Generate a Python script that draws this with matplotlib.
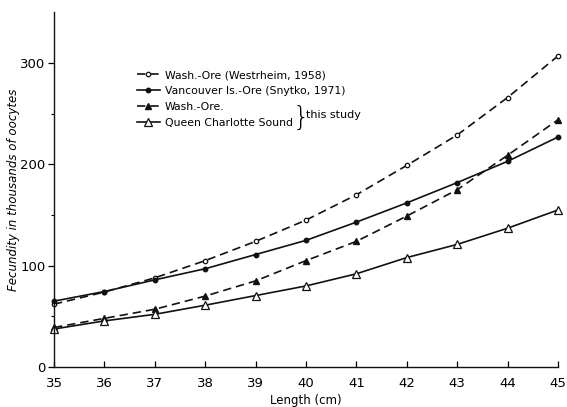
import matplotlib
matplotlib.use('Agg')
import matplotlib.pyplot as plt
from matplotlib.legend_handler import HandlerLine2D
import numpy as np

# fork length (cm)
length = [35, 36, 37, 38, 39, 40, 41, 42, 43, 44, 45]
# fecundity, thousands of oocytes
westrheim = [62, 74, 88, 105, 124, 145, 170, 199, 229, 266, 307]
snytko = [65, 74.5, 86, 97, 111, 125, 143, 162, 182, 203, 227]
wash_ore = [39, 48, 57, 70, 85, 105, 124, 149, 175, 209, 244]
qcs = [37.5, 45.5, 52, 61, 70.5, 80, 92, 108, 121, 137, 155]

labels = ['Wash.-Ore (Westrheim, 1958)', 'Vancouver Is.-Ore (Snytko, 1971)',
          'Wash.-Ore.', 'Queen Charlotte Sound']
xticks = [35, 36, 37, 38, 39, 40, 41, 42, 43, 44, 45]
yticks = [0, 100, 200, 300]


# marker at the right end of the legend line, like the original key
class HandlerEnd(HandlerLine2D):
    def get_xdata(self, legend, xdescent, ydescent, width, height, fontsize):
        xdata = np.array([-xdescent, -xdescent + width])
        return xdata, np.array([-xdescent + width])


fig = plt.figure(figsize=(5.67, 4.07), dpi=100)
ax = fig.add_axes([54/567, 40/407, 504/567, 354.6/407])

ink = '#111111'
dash = (0, (5, 3))
l1, = ax.plot(length, westrheim, color=ink, lw=1.2, linestyle=dash, marker='o',
              ms=3.2, mfc='white', mew=0.9, clip_on=False)
l2, = ax.plot(length, snytko, color=ink, lw=1.2, marker='o', ms=3.2,
              mfc=ink, clip_on=False)
l3, = ax.plot(length, wash_ore, color=ink, lw=1.2, linestyle=dash, marker='^',
              ms=3.8, mfc=ink, clip_on=False)
l4, = ax.plot(length, qcs, color=ink, lw=1.2, marker='^', ms=6,
              mfc='white', mew=0.9, clip_on=False)

ax.set_xlim(35, 45)
ax.set_ylim(0, 350)
ax.set_xticks(xticks)
ax.set_yticks(yticks)
ax.set_yticks([50, 150, 250], minor=True)
ax.tick_params(axis='x', direction='in', length=4, width=0.9, labelsize=9.5, pad=7)
ax.tick_params(axis='y', direction='out', length=4, width=0.9, labelsize=9.5, pad=2)
ax.tick_params(axis='y', which='minor', direction='out', length=2.5, width=0.8)
for s in ['top', 'right']:
    ax.spines[s].set_visible(False)
for s in ['left', 'bottom']:
    ax.spines[s].set_linewidth(1.0)
    ax.spines[s].set_color(ink)

ax.set_xlabel('Length (cm)', fontsize=8.5, labelpad=3)
ax.set_ylabel('Fecundity in thousands of oocytes', fontsize=8.5, style='italic')
ax.yaxis.set_label_coords(20/567, 1 - 190/407, transform=fig.transFigure)

leg = fig.legend([l1, l2, l3, l4], labels, loc='upper left',
                 bbox_to_anchor=(137/567, 1 - 70/407), frameon=False,
                 fontsize=7.8, handlelength=2.1, handletextpad=0.45,
                 labelspacing=0.55, borderpad=0, borderaxespad=0,
                 handler_map={l: HandlerEnd() for l in [l1, l2, l3, l4]})

fig.text(293/567, 1 - 117/407, '}', fontsize=19, va='center', ha='left',
         fontweight='light')
fig.text(306/567, 1 - 115/407, 'this study', fontsize=8, va='center', ha='left')

fig.savefig('out.png', dpi=100)
